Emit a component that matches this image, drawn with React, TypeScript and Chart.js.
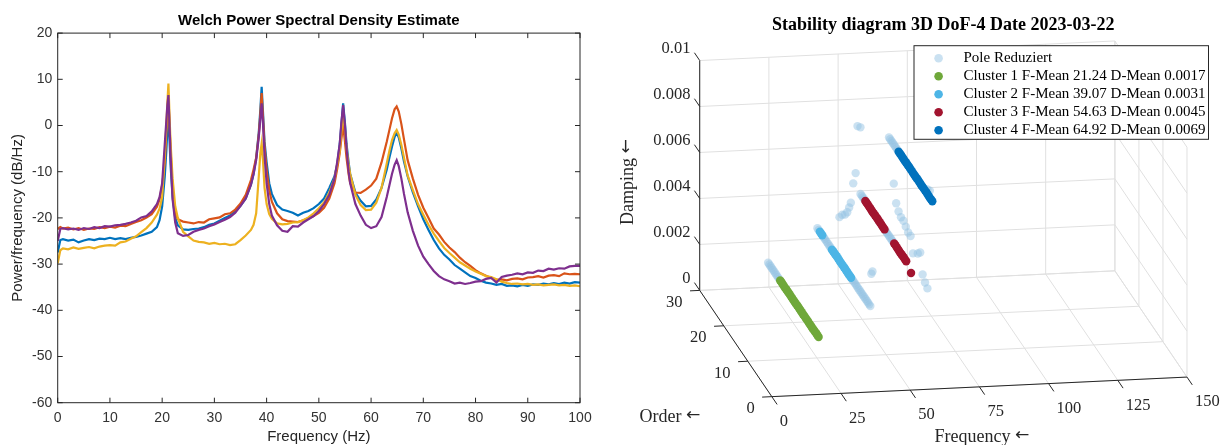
import React, { useEffect, useRef } from "react";
import { Chart, registerables } from "chart.js";

Chart.register(...registerables);

// ---------------- Left panel: Welch PSD ----------------
const FREQ = [
  0, 0.5, 1, 2, 3, 4, 5, 6, 7, 8,
  9, 10, 11, 12, 13, 14, 15, 16, 17, 18,
  19, 19.5, 20, 20.5, 20.8, 21, 21.2, 21.4, 21.6, 22,
  22.5, 23, 24, 25, 26, 27, 28, 29, 30, 31,
  32, 33, 34, 35, 36, 37, 37.5, 38, 38.5, 38.8,
  39.05, 39.3, 39.6, 40, 40.5, 41, 42, 43, 44, 45,
  46, 47, 48, 49, 50, 51, 52, 53, 53.5, 54,
  54.3, 54.65, 55, 55.3, 55.7, 56, 57, 58, 59, 60,
  61, 62, 63, 63.5, 64, 64.5, 64.9, 65.3, 65.8, 66.3,
  67, 68, 69, 70, 71, 72, 73, 74, 75, 76,
  77, 78, 79, 80, 81, 82, 83, 84, 85, 86,
  87, 88, 89, 90, 91, 92, 93, 94, 95, 96,
  97, 98, 99, 100,
];

const PSD_CH1 = [
  -27.5, -24.8, -24.6, -24.9, -24.7, -25.3, -24.9, -24.6, -24.8, -24.5,
  -24.6, -24.3, -24.6, -24.4, -24.6, -24.3, -24.1, -23.8, -23.4, -23.0,
  -22.0, -20.5, -17.5, -11.0, -5.5, -1.0, 1.5, -3.0, -8.5, -15.5,
  -20.0, -21.6, -22.5, -22.6, -22.4, -22.3, -22.0, -21.5, -21.2, -20.6,
  -20.0, -19.5, -18.6, -17.4, -15.8, -12.8, -10.5, -7.0, -1.5, 3.5,
  8.4, 3.0, -3.5, -8.0, -12.5, -14.8, -17.2, -18.2, -18.5, -18.9,
  -19.5, -18.9, -18.5, -17.9, -17.0, -15.8, -13.5, -11.0, -8.5, -4.0,
  0.0, 4.8, 0.5, -4.0, -8.0, -10.5, -14.5, -16.3, -17.5, -17.4,
  -16.0, -13.5, -9.6, -7.0, -4.6, -2.5, -1.5, -2.6, -5.0, -7.8,
  -11.0, -14.5, -17.5, -20.3, -22.6, -24.8, -26.6, -28.0, -29.0, -30.2,
  -31.0, -31.8, -32.6, -33.0, -33.6, -34.0, -34.2, -34.5, -34.3, -34.7,
  -34.6, -34.8, -34.5, -34.7, -34.4, -34.5, -34.2, -34.4, -34.1, -34.3,
  -34.0, -34.2, -33.9, -34.0,
];

const PSD_CH2 = [
  -22.4, -22.0, -22.3, -22.1, -22.5, -22.2, -22.6, -22.3, -22.4, -22.0,
  -22.2, -21.9, -22.1, -21.7, -21.8, -21.3, -20.9, -20.5, -19.9, -19.2,
  -17.6, -16.0, -13.0, -8.0, -1.5, 3.0, 5.5, 0.5, -5.0, -14.0,
  -19.0, -20.3, -20.8, -21.0, -21.2, -20.9, -21.0, -20.3, -20.1, -19.9,
  -19.2, -19.0, -18.2, -16.9, -15.0, -11.8, -9.5, -7.0, -2.0, 2.5,
  7.0, 2.0, -4.5, -9.6, -14.0, -16.5, -19.0, -20.3, -20.7, -20.8,
  -20.9, -20.5, -20.1, -19.6, -18.9, -17.8, -15.8, -12.5, -9.5, -6.0,
  -3.0, 0.0, -3.5, -7.0, -10.5, -12.5, -14.5, -14.6, -13.9, -13.0,
  -11.5, -8.0, -3.5, -1.0, 1.5, 3.5, 4.1, 3.0, 0.3, -3.0,
  -7.5, -11.5, -15.0, -17.8, -20.0, -22.3, -23.6, -25.2, -26.4, -27.4,
  -28.6, -29.6, -30.4, -31.3, -32.0, -32.5, -33.0, -33.4, -33.3, -33.5,
  -33.2, -33.1, -33.3, -32.9, -32.8, -32.6, -32.9, -32.5, -32.4, -32.6,
  -32.0, -32.2, -32.1, -32.2,
];

const PSD_CH3 = [
  -29.8, -27.0, -26.6, -26.8, -26.4, -26.7, -26.5, -26.3, -26.6, -26.2,
  -26.0, -25.9, -26.0, -25.3, -25.1, -24.5, -24.0, -23.1, -22.2, -21.0,
  -19.3, -18.0, -15.5, -6.5, 0.0, 5.0, 9.1, 2.5, -3.5, -11.5,
  -17.5, -20.0, -23.0, -24.0, -24.9, -25.2, -25.3, -25.6, -25.4, -25.7,
  -25.6, -25.9, -25.7, -24.8, -23.8, -22.6, -21.5, -19.0, -11.0, -6.0,
  -3.9, -7.5, -13.5, -17.0, -19.2, -20.2, -21.2, -21.4, -21.3, -21.0,
  -20.9, -20.5, -19.9, -19.0, -17.9, -16.6, -14.5, -11.5, -8.5, -5.5,
  -1.5, 2.5, -1.0, -5.0, -8.5, -10.5, -15.0, -17.2, -18.3, -18.2,
  -16.7, -13.5, -8.2, -5.5, -3.2, -1.7, -1.0, -2.0, -4.2, -7.0,
  -10.8, -14.0, -17.0, -19.3, -21.5, -23.4, -25.0, -26.5, -27.6, -28.6,
  -29.6, -30.3, -31.0, -31.6, -32.1, -32.6, -32.8, -33.3, -33.8, -34.1,
  -34.3, -34.2, -34.4, -34.3, -34.5, -34.4, -34.6, -34.5, -34.4, -34.6,
  -34.5, -34.7, -34.6, -34.8,
];

const PSD_CH4 = [
  -25.0, -22.4, -22.2, -22.5, -22.3, -22.6, -22.2, -22.4, -22.0, -22.2,
  -21.8, -21.9, -21.6, -21.5, -21.3, -21.0, -20.6, -19.9, -19.6, -18.6,
  -17.0, -15.5, -12.5, -4.0, 1.0, 4.5, 6.6, 0.5, -6.0, -16.0,
  -21.0, -23.3, -23.9, -23.7, -23.0, -22.6, -22.3, -21.8, -21.4, -20.9,
  -20.4, -19.8, -18.9, -17.4, -15.8, -12.8, -10.5, -7.5, -2.5, 1.5,
  4.8, 0.5, -6.5, -12.5, -17.0, -19.5, -21.6, -22.8, -23.0, -21.8,
  -21.9, -21.0, -20.3, -19.6, -18.5, -17.0, -15.0, -11.5, -8.0, -4.0,
  0.5, 4.4, 0.0, -5.0, -10.0, -12.5, -17.0, -19.5, -21.5, -22.2,
  -21.8, -19.8, -15.5, -13.0, -10.5, -8.5, -7.5, -8.8, -11.5, -14.8,
  -18.8, -22.8, -26.0, -28.4, -30.0, -31.5, -32.6, -33.3, -33.7, -34.2,
  -34.0, -34.3, -34.1, -33.8, -33.7, -33.2, -33.0, -34.0, -32.8, -32.5,
  -32.3, -32.0, -32.2, -31.8, -31.9, -31.4, -31.5, -31.0, -31.2, -30.9,
  -31.0, -30.5, -30.4, -30.4,
];

const PSD_X_TICKS = [0, 10, 20, 30, 40, 50, 60, 70, 80, 90, 100];
const PSD_Y_TICKS = [-60, -50, -40, -30, -20, -10, 0, 10, 20];
const PSD_TITLE = "Welch Power Spectral Density Estimate";
const PSD_XLABEL = "Frequency (Hz)";
const PSD_YLABEL = "Power/frequency (dB/Hz)";

// ---------------- Right panel: 3D stability diagram ----------------
const POLE_FREQ = [
  21.24, 21.23, 21.24, 21.25, 21.24, 21.24, 21.23, 21.24, 21.25, 21.24,
  39.07, 39.08, 39.06, 39.07, 39.07, 39.08, 39.06, 39.07, 39.07, 39.08, 39.06, 39.07, 39.07, 39.08, 39.06, 39.07,
  39.07, 39.06, 39.08, 39.07, 39.07, 39.06, 39.08,
  39.07, 39.06,
  54.63, 54.62, 54.64, 54.63, 54.63, 54.62, 54.64,
  54.63, 54.62, 54.64, 54.63,
  64.92, 64.93, 64.91, 64.92, 64.92, 64.93, 64.91, 64.92,
  54.6, 54.4, 54.6, 54.6, 54.6, 54.0, 50.5, 51.5, 52.5, 53.3,
  64.9, 64.9, 64.9, 64.9, 64.9, 64.9, 64.9, 64.9,
  64.9, 64.9, 64.9,
  54.6, 54.2,
  64.9, 64.9, 64.9,
  64.9, 64.9,
];
const POLE_ORDER = [
  21.5, 22, 22.5, 23, 23.5, 24, 24.5, 25, 25.5, 26,
  4, 4.5, 5, 5.5, 6, 6.5, 7, 7.5, 8, 8.5, 9, 9.5, 10, 10.5, 11, 11.5,
  20.5, 21, 21.5, 22, 22.5, 23, 23.5,
  25.5, 26,
  12.5, 13, 13.5, 14, 14.5, 15, 15.5,
  24.5, 25, 25.5, 26,
  22.5, 23, 23.5, 24, 24.5, 25, 25.5, 26,
  26, 27, 28, 29, 30, 30, 30, 30, 30, 30,
  24, 23, 22, 21, 20, 19, 18, 17,
  16, 14, 13,
  21, 21,
  12, 11, 10,
  9, 10,
];
const POLE_DAMP = [
  0.0017, 0.0017, 0.0017, 0.0017, 0.0017, 0.0017, 0.0017, 0.0017, 0.0017, 0.0017,
  0.0031, 0.0031, 0.0031, 0.0031, 0.0031, 0.0031, 0.0031, 0.0031, 0.0031, 0.0031, 0.0031, 0.0031, 0.0031, 0.0031, 0.0031, 0.0031,
  0.0031, 0.0031, 0.0031, 0.0031, 0.0031, 0.0031, 0.0031,
  0.0031, 0.0031,
  0.0045, 0.0045, 0.0045, 0.0045, 0.0045, 0.0045, 0.0045,
  0.0045, 0.0045, 0.0045, 0.0045,
  0.0069, 0.0069, 0.0069, 0.0069, 0.0069, 0.0069, 0.0069, 0.0069,
  0.0074, 0.0073, 0.0051, 0.0045, 0.0035, 0.0033, 0.0029, 0.003, 0.003, 0.0031,
  0.0052, 0.0045, 0.0043, 0.0042, 0.0042, 0.0041, 0.004, 0.004,
  0.0034, 0.0037, 0.0039,
  0.0019, 0.0018,
  0.0031, 0.0029, 0.0028,
  0.0072, 0.0071,
];

const C1_ORDER = [5, 5.5, 6, 6.5, 7, 7.5, 8, 8.5, 9, 9.5, 10, 10.5, 11, 11.5, 12, 12.5, 13, 13.5, 14, 14.5, 15, 15.5, 16, 16.5, 17, 17.5, 18, 18.5, 19, 19.5, 20, 20.5, 21];
const C1_FREQ = [
  21.25, 21.24, 21.24, 21.23, 21.24, 21.25, 21.24, 21.24, 21.23, 21.24, 21.24,
  21.25, 21.24, 21.23, 21.24, 21.24, 21.25, 21.24, 21.24, 21.23, 21.24, 21.25,
  21.24, 21.24, 21.23, 21.24, 21.24, 21.25, 21.24, 21.23, 21.24, 21.24, 21.25,
];
const C1_DAMP = [
  0.0017, 0.0017, 0.00171, 0.0017, 0.0017, 0.00169, 0.0017, 0.0017, 0.0017, 0.00171, 0.0017,
  0.0017, 0.0017, 0.00169, 0.0017, 0.0017, 0.0017, 0.00171, 0.0017, 0.0017, 0.0017, 0.00169,
  0.0017, 0.0017, 0.00171, 0.0017, 0.0017, 0.0017, 0.00169, 0.0017, 0.0017, 0.00171, 0.0017,
];

const C2_ORDER = [12, 12.5, 13, 13.5, 14, 14.5, 15, 15.5, 16, 16.5, 17, 17.5, 18, 18.5, 19, 19.5, 20, 24, 24.5, 25];
const C2_FREQ = [39.06, 39.07, 39.08, 39.07, 39.06, 39.07, 39.07, 39.08, 39.07, 39.06, 39.07, 39.08, 39.07, 39.06, 39.07, 39.07, 39.08, 39.07, 39.06, 39.07];
const C2_DAMP = [0.0031, 0.0031, 0.00309, 0.0031, 0.0031, 0.00311, 0.0031, 0.0031, 0.0031, 0.00309, 0.0031, 0.0031, 0.00311, 0.0031, 0.0031, 0.0031, 0.00309, 0.0031, 0.0031, 0.0031];

const C3_ORDER = [5, 7, 7.5, 8, 8.5, 9, 9.5, 10, 10.5, 11, 11.5, 12, 16, 16.5, 17, 17.5, 18, 18.5, 19, 19.5, 20, 20.5, 21, 21.5, 22, 22.5, 23, 23.5, 24];
const C3_FREQ = [
  54.64, 54.63, 54.62, 54.63, 54.64, 54.63, 54.63, 54.62, 54.63, 54.64,
  54.63, 54.63, 54.62, 54.63, 54.64, 54.63, 54.63, 54.62, 54.63, 54.64,
  54.63, 54.63, 54.62, 54.63, 54.64, 54.63, 54.63, 54.62, 54.63,
];
const C3_DAMP = [
  0.0043, 0.0045, 0.0045, 0.00451, 0.0045, 0.0045, 0.00449, 0.0045, 0.0045, 0.0045,
  0.00451, 0.0045, 0.0045, 0.0045, 0.00449, 0.0045, 0.0045, 0.0045, 0.00451, 0.0045,
  0.0045, 0.0045, 0.00449, 0.0045, 0.0045, 0.0045, 0.00451, 0.0045, 0.0045,
];

const C4_ORDER = [8, 8.5, 9, 9.5, 10, 10.5, 11, 11.5, 12, 12.5, 13, 13.5, 14, 14.5, 15, 15.5, 16, 16.5, 17, 17.5, 18, 18.5, 19, 19.5, 20, 20.5, 21, 21.5, 22];
const C4_FREQ = [
  64.93, 64.92, 64.92, 64.91, 64.92, 64.93, 64.92, 64.92, 64.91, 64.92,
  64.92, 64.93, 64.92, 64.92, 64.91, 64.92, 64.92, 64.93, 64.92, 64.92,
  64.91, 64.92, 64.92, 64.93, 64.92, 64.92, 64.91, 64.92, 64.92,
];
const C4_DAMP = [
  0.0069, 0.0069, 0.00689, 0.0069, 0.0069, 0.00691, 0.0069, 0.0069, 0.0069, 0.00689,
  0.0069, 0.0069, 0.00691, 0.0069, 0.0069, 0.0069, 0.00689, 0.0069, 0.0069, 0.00691,
  0.0069, 0.0069, 0.0069, 0.00689, 0.0069, 0.0069, 0.00691, 0.0069, 0.0069,
];

const FREQ_TICKS_3D = [0, 25, 50, 75, 100, 125, 150];
const ORDER_TICKS = [0, 10, 20, 30];
const DAMP_TICKS = [0, 0.002, 0.004, 0.006, 0.008, 0.01];
const DAMP_TICK_LABELS = ["0", "0.002", "0.004", "0.006", "0.008", "0.01"];
const LEGEND_LABELS = [
  "Pole Reduziert",
  "Cluster 1 F-Mean 21.24 D-Mean 0.0017",
  "Cluster 2 F-Mean 39.07 D-Mean 0.0031",
  "Cluster 3 F-Mean 54.63 D-Mean 0.0045",
  "Cluster 4 F-Mean 64.92 D-Mean 0.0069",
];
const STAB_TITLE = "Stability diagram 3D DoF-4 Date 2023-03-22";
const ORDER_LABEL = "Order";
const FREQ_LABEL = "Frequency";
const DAMP_LABEL = "Damping";

// ---------------- styling ----------------
const SANS = "'Liberation Sans', Arial, Helvetica, sans-serif";
const SERIF = "'Liberation Serif', 'Times New Roman', serif";
const ARROW_FONT = "'DejaVu Sans', sans-serif";
const AX = "#262626";
const GRID = "#e0e0e0";

// orthographic view of the 3D box, in canvas units of the right chart
const VIEW = { x0: 159.8, y0: 400, fX: 2.806, fY: -0.133, oX: -2.437, oY: -3.61, dY: -23430 };
function project(f: number, o: number, d: number) {
  return {
    x: VIEW.x0 + VIEW.fX * f + VIEW.oX * o,
    y: VIEW.y0 + VIEW.fY * f + VIEW.oY * o + VIEW.dY * d,
  };
}
function toPts(F: number[], O: number[], D: number[]) {
  return F.map((f, i) => project(f, O[i], D[i]));
}

function labelWithArrow(ctx: any, text: string, x: number, y: number, size: number) {
  ctx.font = `${size}px ${SERIF}`;
  const w1 = ctx.measureText(text + " ").width;
  ctx.font = `${size * 0.95}px ${ARROW_FONT}`;
  const w2 = ctx.measureText("\u2190").width;
  const start = x - (w1 + w2) / 2;
  ctx.textAlign = "left";
  ctx.font = `${size}px ${SERIF}`;
  ctx.fillText(text + " ", start, y);
  ctx.font = `${size * 0.95}px ${ARROW_FONT}`;
  ctx.fillText("\u2190", start + w1, y - 1);
}

const psdFramePlugin = {
  id: "psdFrame",
  afterDraw(chart: any) {
    const { ctx, chartArea, scales } = chart;
    const { left, right, top, bottom } = chartArea;
    const xs = scales.x;
    const ys = scales.y;
    ctx.save();
    ctx.strokeStyle = AX;
    ctx.lineWidth = 1;
    ctx.strokeRect(left, top, right - left, bottom - top);
    const L = 5;
    ctx.beginPath();
    PSD_X_TICKS.forEach((v) => {
      const px = xs.getPixelForValue(v);
      ctx.moveTo(px, bottom);
      ctx.lineTo(px, bottom - L);
      ctx.moveTo(px, top);
      ctx.lineTo(px, top + L);
    });
    PSD_Y_TICKS.forEach((v) => {
      const py = ys.getPixelForValue(v);
      ctx.moveTo(left, py);
      ctx.lineTo(left + L, py);
      ctx.moveTo(right, py);
      ctx.lineTo(right - L, py);
    });
    ctx.stroke();

    ctx.textAlign = "center";
    ctx.textBaseline = "middle";
    ctx.fillStyle = "#000";
    ctx.font = `bold 15px ${SANS}`;
    ctx.fillText(PSD_TITLE, (left + right) / 2, 20.7);
    ctx.fillStyle = AX;
    ctx.font = `15px ${SANS}`;
    ctx.fillText(PSD_XLABEL, (left + right) / 2, 437);
    ctx.translate(17.6, (top + bottom) / 2);
    ctx.rotate(-Math.PI / 2);
    ctx.fillText(PSD_YLABEL, 0, 0);
    ctx.restore();
  },
};

function PsdChart() {
  const ref = useRef<HTMLCanvasElement>(null);
  useEffect(() => {
    const mk = (vals: number[]) => FREQ.map((f, i) => ({ x: f, y: vals[i] }));
    const line = (label: string, vals: number[], color: string, order: number) => ({
      label,
      data: mk(vals),
      borderColor: color,
      backgroundColor: color,
      borderWidth: 2.2,
      pointRadius: 0,
      tension: 0,
      fill: false,
      order,
    });
    const chart = new Chart(ref.current as HTMLCanvasElement, {
      type: "line",
      data: {
        datasets: [
          line("ch1", PSD_CH1, "#0072BD", 4),
          line("ch2", PSD_CH2, "#D95319", 3),
          line("ch3", PSD_CH3, "#EDB120", 2),
          line("ch4", PSD_CH4, "#7E2F8E", 1),
        ],
      },
      options: {
        responsive: false,
        animation: false,
        events: [],
        layout: { padding: { left: 0, right: 30, top: 33.1, bottom: 0 } },
        plugins: { legend: { display: false }, tooltip: { enabled: false }, title: { display: false } },
        scales: {
          x: {
            type: "linear",
            min: 0,
            max: 100,
            afterBuildTicks: (s: any) => {
              s.ticks = PSD_X_TICKS.map((v) => ({ value: v }));
            },
            afterFit: (s: any) => {
              s.height = 42.3;
            },
            grid: { display: false, drawTicks: false },
            border: { display: false },
            ticks: { font: { family: SANS, size: 14 }, color: "#333", padding: 7, maxRotation: 0, autoSkip: false },
          },
          y: {
            type: "linear",
            min: -60,
            max: 20,
            afterBuildTicks: (s: any) => {
              s.ticks = PSD_Y_TICKS.map((v) => ({ value: v }));
            },
            afterFit: (s: any) => {
              s.width = 57.7;
            },
            grid: { display: false, drawTicks: false },
            border: { display: false },
            ticks: { font: { family: SANS, size: 14 }, color: "#333", padding: 5.5, autoSkip: false },
          },
        },
      } as any,
      plugins: [psdFramePlugin],
    });
    return () => chart.destroy();
  }, []);
  return <canvas ref={ref} width={610} height={445} style={{ position: "absolute", left: 0, top: 0 }} />;
}

const stabPlugin = {
  id: "stab3d",
  beforeDatasetsDraw(chart: any) {
    const { ctx, scales } = chart;
    const xs = scales.x;
    const ys = scales.y;
    const P = (f: number, o: number, d: number) => {
      const p = project(f, o, d);
      return [xs.getPixelForValue(p.x), ys.getPixelForValue(p.y)];
    };
    const seg = (a: number[], b: number[]) => {
      ctx.beginPath();
      ctx.moveTo(a[0], a[1]);
      ctx.lineTo(b[0], b[1]);
      ctx.stroke();
    };
    const fMax = FREQ_TICKS_3D[FREQ_TICKS_3D.length - 1];
    const oMax = ORDER_TICKS[ORDER_TICKS.length - 1];
    const dMax = DAMP_TICKS[DAMP_TICKS.length - 1];
    ctx.save();
    ctx.lineWidth = 1;
    ctx.strokeStyle = GRID;
    // back wall
    FREQ_TICKS_3D.forEach((f) => seg(P(f, oMax, 0), P(f, oMax, dMax)));
    DAMP_TICKS.forEach((d) => seg(P(0, oMax, d), P(fMax, oMax, d)));
    // floor
    FREQ_TICKS_3D.forEach((f) => seg(P(f, 0, 0), P(f, oMax, 0)));
    ORDER_TICKS.forEach((o) => seg(P(0, o, 0), P(fMax, o, 0)));
    // side wall
    ORDER_TICKS.forEach((o) => seg(P(fMax, o, 0), P(fMax, o, dMax)));
    DAMP_TICKS.forEach((d) => seg(P(fMax, 0, d), P(fMax, oMax, d)));

    // axes
    ctx.strokeStyle = AX;
    seg(P(0, oMax, 0), P(0, oMax, dMax));
    seg(P(0, 0, 0), P(0, oMax, 0));
    seg(P(0, 0, 0), P(fMax, 0, 0));

    ctx.fillStyle = AX;
    ctx.font = `16.5px ${SERIF}`;
    ctx.textBaseline = "middle";
    // damping ticks
    ctx.textAlign = "right";
    DAMP_TICKS.forEach((d, i) => {
      const a = P(0, oMax, d);
      const b = P(0, oMax + 2.2, d);
      seg(a, b);
      ctx.fillText(DAMP_TICK_LABELS[i], b[0] - 4, b[1] - 4);
    });
    // order ticks
    ORDER_TICKS.forEach((o) => {
      const a = P(0, o, 0);
      const b = P(-3.5, o, 0);
      seg(a, b);
      ctx.fillText(String(o), b[0] - 7.5, b[1] + 11.5);
    });
    // frequency ticks
    ctx.textAlign = "left";
    FREQ_TICKS_3D.forEach((f) => {
      const a = P(f, 0, 0);
      const b = P(f, -2.2, 0);
      seg(a, b);
      ctx.fillText(String(f), a[0] + 8, a[1] + 25);
    });

    // axis titles
    labelWithArrow(ctx, ORDER_LABEL, 60, 417, 18);
    labelWithArrow(ctx, FREQ_LABEL, 372, 437, 18);
    ctx.save();
    ctx.translate(18, 182);
    ctx.rotate(-Math.PI / 2);
    labelWithArrow(ctx, DAMP_LABEL, 0, 0, 18);
    ctx.restore();

    ctx.textAlign = "center";
    ctx.fillStyle = "#000";
    ctx.font = `bold 18px ${SERIF}`;
    ctx.fillText(STAB_TITLE, 333.3, 25);
    ctx.restore();
  },
  afterDatasetsDraw(chart: any) {
    const { ctx } = chart;
    const bx = 304;
    const by = 45.7;
    const bw = 294.5;
    const bh = 93.6;
    ctx.save();
    ctx.fillStyle = "#fff";
    ctx.fillRect(bx, by, bw, bh);
    ctx.strokeStyle = AX;
    ctx.lineWidth = 1;
    ctx.strokeRect(bx, by, bw, bh);
    ctx.font = `15px ${SERIF}`;
    ctx.textAlign = "left";
    ctx.textBaseline = "middle";
    LEGEND_LABELS.forEach((lab, i) => {
      const y = 58.3 + i * 18;
      const ds = chart.data.datasets[i];
      ctx.fillStyle = ds.backgroundColor;
      ctx.beginPath();
      ctx.arc(328.6, y, 4.3, 0, Math.PI * 2);
      ctx.fill();
      ctx.fillStyle = "#000";
      ctx.fillText(lab, 353.5, y);
    });
    ctx.restore();
  },
};

function StabilityChart() {
  const ref = useRef<HTMLCanvasElement>(null);
  useEffect(() => {
    const ds = (label: string, data: any[], color: string, order: number) => ({
      label,
      data,
      backgroundColor: color,
      borderColor: "rgba(0,0,0,0)",
      borderWidth: 0,
      pointRadius: 4.2,
      pointBorderWidth: 0,
      clip: false,
      order,
    });
    const chart = new Chart(ref.current as HTMLCanvasElement, {
      type: "scatter",
      data: {
        datasets: [
          ds(LEGEND_LABELS[0], toPts(POLE_FREQ, POLE_ORDER, POLE_DAMP), "rgba(150,196,228,0.5)", 5),
          ds(LEGEND_LABELS[1], toPts(C1_FREQ, C1_ORDER, C1_DAMP), "#6FA83A", 4),
          ds(LEGEND_LABELS[2], toPts(C2_FREQ, C2_ORDER, C2_DAMP), "#4DB5E6", 3),
          ds(LEGEND_LABELS[3], toPts(C3_FREQ, C3_ORDER, C3_DAMP), "#A2142F", 2),
          ds(LEGEND_LABELS[4], toPts(C4_FREQ, C4_ORDER, C4_DAMP), "#0072BD", 1),
        ],
      },
      options: {
        responsive: false,
        animation: false,
        events: [],
        layout: { padding: 0 },
        plugins: { legend: { display: false }, tooltip: { enabled: false }, title: { display: false } },
        scales: {
          x: { type: "linear", min: 0, max: 617, display: false },
          y: { type: "linear", min: 0, max: 445, reverse: true, display: false },
        },
      } as any,
      plugins: [stabPlugin],
    });
    return () => chart.destroy();
  }, []);
  return <canvas ref={ref} width={617} height={445} style={{ position: "absolute", left: 610, top: 0 }} />;
}

export default function App() {
  return (
    <div
      style={{
        position: "fixed",
        left: 0,
        top: 0,
        width: 1227,
        height: 445,
        background: "#fff",
        overflow: "hidden",
      }}
    >
      <PsdChart />
      <StabilityChart />
    </div>
  );
}
